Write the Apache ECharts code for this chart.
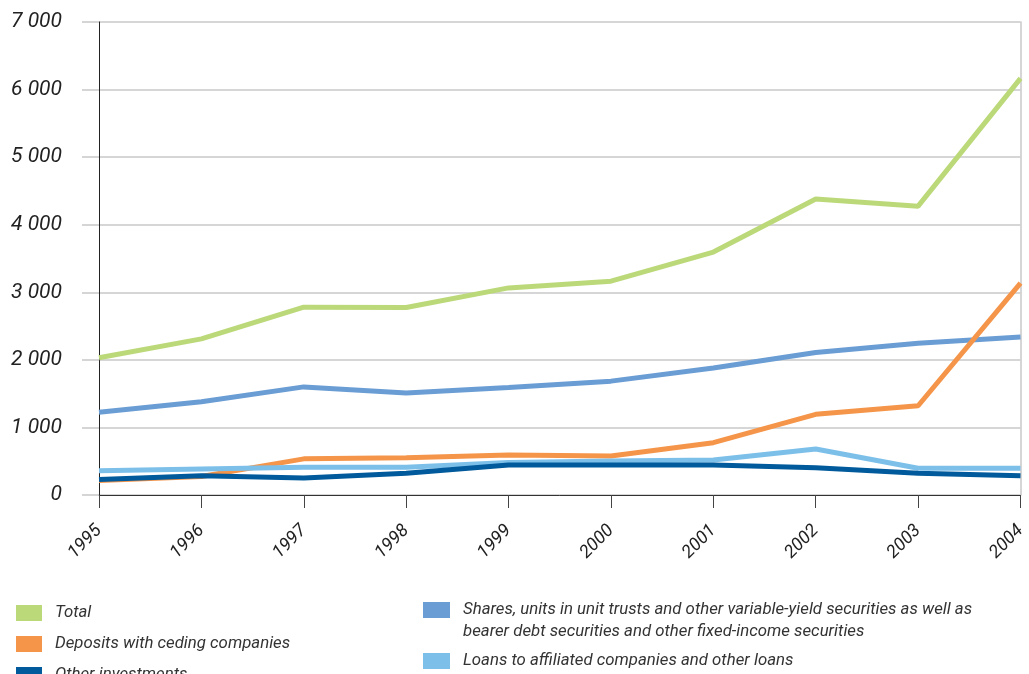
<!DOCTYPE html>
<html>
<head>
<meta charset="utf-8">
<script src="https://cdn.jsdelivr.net/npm/echarts@6/dist/echarts.min.js"></script>
<style>
  html, body { margin: 0; padding: 0; background: #fff; }
  #chart-container { width: 1029px; height: 674px; }
</style>
</head>
<body>
<div id="chart-container"></div>
<script>
const years = ['1995', '1996', '1997', '1998', '1999', '2000', '2001', '2002', '2003', '2004'];

const total    = [2030, 2310, 2780, 2775, 3065, 3165, 3595, 4380, 4275, 6165];
const shares   = [1225, 1380, 1600, 1510, 1590, 1685, 1880, 2110, 2245, 2340];
const deposits = [215, 275, 535, 552, 592, 578, 774, 1194, 1321, 3135];
const others   = [230, 286, 251, 321, 444, 444, 444, 404, 321, 286];
const loans    = [360, 385, 410, 410, 480, 503, 518, 680, 395, 395];

const names = {
	total: 'Total',
	deposits: 'Deposits with ceding companies',
	others: 'Other investments',
	shares: 'Shares, units in unit trusts and other variable-yield securities as well as bearer debt securities and other fixed-income securities',
	loans: 'Loans to affiliated companies and other loans'
};

const colors = {
	total: '#bcd97a',
	shares: '#6a9dd4',
	loans: '#7cc0ea',
	deposits: '#f5954a',
	others: '#005a9b'
};

const fontFamily = 'Roboto';

const fmt = v => v === 0 ? '0' : (v / 1000) + ' 000';

const legendText = {
	fontFamily: fontFamily,
	fontStyle: 'italic',
	fontSize: 16.8,
	color: '#333',
	lineHeight: 22,
	padding: [0, 0, 0, 8]
};

// one legend per entry, placed like the original two-column key
const legendItem = (key, left, top, w) => ({
	left: left, top: top,
	itemWidth: w, itemHeight: 16,
	icon: 'rect',
	data: [names[key]],
	textStyle: legendText
});

const myChart = echarts.init(document.getElementById('chart-container'));

const line = (key, data) => ({
	name: names[key],
	type: 'line',
	data: data,
	symbol: 'none',
	lineStyle: { width: 5, color: colors[key] },
	itemStyle: { color: colors[key] },
	animation: false
});

const option = {
	backgroundColor: '#fff',
	grid: { left: 99, right: 8, top: 22, bottom: 179 },
	legend: [
		legendItem('total', 11, 597, 26),
		legendItem('deposits', 11, 628, 26),
		legendItem('others', 11, 659, 26),
		{
			left: 418, top: 594,
			itemWidth: 27, itemHeight: 38,
			// rect on top, empty space below so the square lines up with the first text line
			data: [{ name: names.shares, icon: 'path://M0,0L27,0L27,16L0,16Z M0,38L0.01,38' }],
			formatter: () => 'Shares, units in unit trusts and other variable-yield securities as well as\nbearer debt securities and other fixed-income securities',
			textStyle: legendText
		},
		legendItem('loans', 418, 645, 27)
	],
	xAxis: {
		type: 'category',
		data: years,
		boundaryGap: false,
		axisLine: { lineStyle: { color: '#333', width: 1 } },
		axisTick: { show: true, length: 13, lineStyle: { color: '#444' } },
		axisLabel: {
			rotate: 45,
			margin: 33,
			fontFamily: fontFamily,
			fontStyle: 'italic',
			fontSize: 18,
			color: '#222'
		},
		splitLine: { show: false }
	},
	yAxis: [
		{
			type: 'value',
			min: 0, max: 7000, interval: 1000,
			axisLine: { show: true, lineStyle: { color: '#222', width: 1 } },
			axisTick: { show: true, inside: false, length: 17, lineStyle: { color: '#c8c8c8', width: 1.5 } },
			axisLabel: {
				margin: 37,
				formatter: fmt,
				fontFamily: fontFamily,
				fontStyle: 'italic',
				fontSize: 21,
				color: '#222'
			},
			splitLine: { lineStyle: { color: '#c8c8c8', width: 1.5 } }
		},
		{
			type: 'value',
			position: 'right',
			min: 0, max: 7000, interval: 1000,
			axisLine: { show: true, lineStyle: { color: '#c8c8c8', width: 1.5 } },
			axisTick: { show: false },
			axisLabel: { show: false },
			splitLine: { show: false }
		}
	],
	series: [
		line('total', total),
		line('shares', shares),
		line('deposits', deposits),
		line('loans', loans),
		line('others', others)
	]
};

myChart.setOption(option);
</script>
</body>
</html>
